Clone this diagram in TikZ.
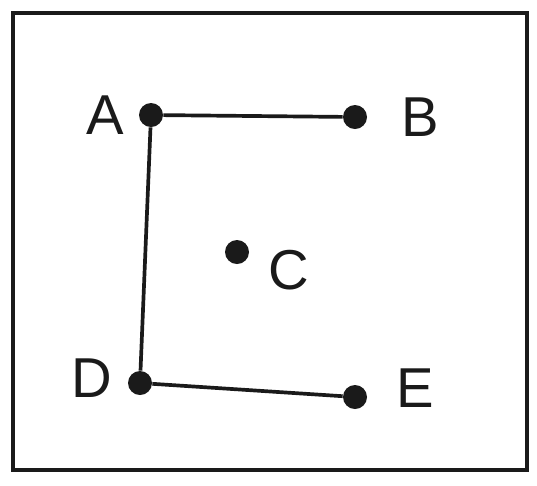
\documentclass[tikz,border=0pt]{standalone}
\usepackage{fontspec}
\setmainfont{Liberation Sans}
\usetikzlibrary{positioning}
\definecolor{ink}{HTML}{1A1A1A}
\tikzset{
  pt/.style  = {circle, fill=ink, inner sep=0pt, minimum size=0.48cm},
  lbl/.style = {font=\fontsize{32}{34}\selectfont, text=ink, inner sep=0pt},
  edge/.style = {ink, line width=2.1pt},
}
\begin{document}
\begin{tikzpicture}[x=0.02cm, y=-0.02cm]
  \useasboundingbox (0,0) rectangle (537,485);
  \fill[white] (0,0) rectangle (537,485);
  % frame
  \draw[ink, line width=2.6pt] (13,13) rectangle (527,470);

  % points
  \node[pt] (a) at (151,115) {};
  \node[pt] (b) at (355,117) {};
  \node[pt] (c) at (237,252) {};
  \node[pt] (d) at (140,383) {};
  \node[pt] (e) at (355,397) {};

  % labels
  \node[lbl] (la) at (105,115) {A};
  \node[lbl] (lb) at (420,117) {B};
  \node[lbl] (lc) at (289,270) {C};
  \node[lbl] (ld) at (92,378)  {D};
  \node[lbl] (le) at (415,388) {E};

  % connections
  \draw[edge] (a) -- (b);
  \draw[edge] (a) -- (d);
  \draw[edge] (d) -- (e);
\end{tikzpicture}
\end{document}
